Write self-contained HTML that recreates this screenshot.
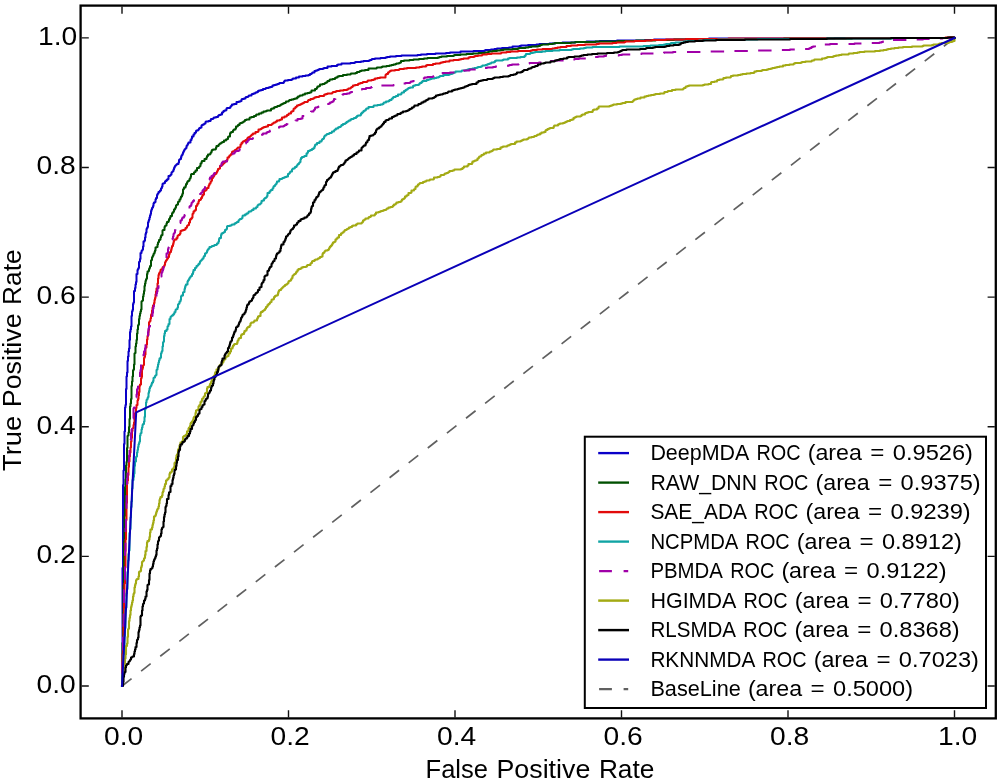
<!DOCTYPE html><html lang="en"><head><meta charset="utf-8"><title>ROC</title>
<style>html,body{margin:0;padding:0;background:#fff;width:1000px;height:784px;overflow:hidden;}svg{display:block;will-change:transform;font-family:"Liberation Sans",sans-serif;}text{white-space:pre;}</style></head><body>
<svg width="1000" height="784" viewBox="0 0 1000 784">
<rect x="0" y="0" width="1000" height="784" fill="#ffffff"/>
<g fill="none" stroke-linejoin="round" stroke-linecap="butt">
<path d="M122.0,686.0 L954.6,37.9" stroke="#606060" stroke-width="1.7" stroke-dasharray="12.1,12.12"/>
<path d="M122.0,686.0v-6.5h0.5v-111.5h0.5v-83h0.5v-14.5h0.5v-26.5h0.5v-12.5h0.5v-24h0.5v-2.5h0.5v-16h0.5v-12.5h0.5v-4h0.5v-11.5h0.5v-4.5h0.5v-5h0.5v-3h0.5v-8.5h0.5v-8h0.5v-2.5h0.5v-3h0.5v-10.5h0.5v-4.5h0.5v-1.5h0.5v-6h0.5v-1.5h0.5v-11.5h1v-3h0.5v-3.5h0.5v-2.5h0.5v-8h1v-4h0.5v-1h0.5v-1h0.5v-6h0.5v-0.5h0.5v-2.5h0.5v-6h1v-2h0.5v-0.5h0.5v-1h0.5v-3h0.5v-5h1v-1h0.5v-3h0.5v-3.5h0.5v-1.5h0.5v-3.5h0.5v-1h0.5v-1h0.5v-4.5h0.5v-1.5h0.5v-1.5h0.5v-2h0.5v-2h0.5v-1.5h0.5v-3h0.5v-1.5h0.5v-1.5h0.5v-0.5h0.5v-1.5h0.5v-2.5h0.5v-1h1v-0.5h0.5v-2.5h0.5v-1.5h1v-3h0.5v-1h0.5v-0.5h0.5v-1.5h1v-0.5h0.5v-1h1v-2h0.5v-0.5h0.5v-1.5h0.5v-2.5h0.5v-0.5h1v-0.5h1v-1.5h0.5v-0.5h1v-1h1v-1h1v-3h1.5v-0.5h0.5v-0.5h0.5v-0.5h0.5v-2h0.5v-0.5h0.5v-0.5h0.5v-0.5h0.5v-1.5h0.5v-1.5h0.5v-1h0.5v-1h0.5v-0.5h0.5v-0.5h0.5v-0.5h0.5v-0.5h1.5v-1.5h0.5v-2.5h0.5v-0.5h0.5v-0.5h1v-2h0.5v-1.5h0.5v-0.5h0.5v-1h0.5v-1.5h0.5v-1h0.5v-1h0.5v-1h0.5v-0.5h0.5v-0.5h0.5v-0.5h0.5v-2h0.5v-0.5h0.5v-1h0.5v-1h0.5v-1h2v-2.5h1v-1.5h0.5v-2h1.5v-2h1v-1.5h1v-0.5h0.5v-1.5h0.5v-0.5h1.5v-0.5h0.5v-0.5h0.5v-1h0.5v-0.5h1v-0.5h1v-2h0.5v-0.5h1v-0.5h1v-0.5h0.5v-0.5h1v-1.5h0.5v-0.5h2.5v-0.5h2v-1h0.5v-1h2v-0.5h0.5v-0.5h0.5v-0.5h2v-0.5h2v-1h0.5v-0.5h0.5v-0.5h1.5v-0.5h1.5v-2h1v-0.5h0.5v-1h1v-0.5h1.5v-0.5h0.5v-1.5h0.5v-0.5h3v-0.5h0.5v-1h0.5v-0.5h0.5v-0.5h0.5v-1h2v-0.5h2.5v-2h2.5v-0.5h1.5v-0.5h1v-1.5h0.5v-0.5h2v-0.5h1.5v-1h0.5v-0.5h2v-0.5h0.5v-0.5h0.5v-0.5h2.5v-1h0.5v-0.5h1.5v-0.5h1.5v-0.5h0.5v-0.5h1.5v-0.5h1v-1h1v-0.5h2v-0.5h2v-1h2.5v-0.5h0.5v-0.5h2.5v-0.5h1.5v-0.5h2v-0.5h0.5v-1h1.5v-0.5h2v-0.5h1.5v-0.5h1.5v-0.5h0.5v-0.5h4v-0.5h0.5v-1h0.5v-0.5h0.5v-0.5h3v-0.5h3.5v-0.5h1v-0.5h0.5v-0.5h3v-1h3v-1h3.5v-0.5h3v-0.5h3v-0.5h1.5v-1h1.5v-0.5h0.5v-0.5h0.5v-0.5h2v-1.5h1.5v-0.5h1.5v-0.5h1v-0.5h1v-0.5h3.5v-0.5h1v-0.5h3.5v-1.5h4v-0.5h5.5v-1h1v-0.5h3.5v-1h9v-0.5h4v-0.5h1v-0.5h5.5v-0.5h2.5v-0.5h5.5v-0.5h1v-0.5h1.5v-0.5h0.5v-0.5h3v-0.5h5.5v-0.5h5v-0.5h1.5v-0.5h3v-0.5h6v-0.5h5.5v-0.5h16v-0.5h3.5v-0.5h6v-0.5h8.5v-0.5h10.5v-0.5h4v-0.5h10.5v-1h13v-0.5h11v-0.5h1v-0.5h5.5v-0.5h3.5v-0.5h2.5v-0.5h5v-0.5h7v-0.5h3.5v-1h7v-0.5h1.5v-0.5h7v-0.5h8.5v-0.5h3v-0.5h10v-0.5h5.5v-0.5h7.5v-0.5h12.5v-0.5h11.5v-0.5h13v-0.5h17.5v-0.5h28v-0.5h9v-0.5h32v-0.5h23v-0.5h125.5v-0.5h116v-0.5h3.7L954.6,37.9" stroke="#0a00c8" stroke-width="2.0" stroke-linecap="square"/>
<path d="M122.0,686.0v-10h0.5v-33h0.5v-30h0.5v-27.5h0.5v-44h0.5v-25.5h0.5v-29h0.5v-7.5h0.5v-14h0.5v-3.5h0.5v-14h0.5v-12h0.5v-0.5h0.5v-3h0.5v-5.5h0.5v-8h0.5v-12.5h0.5v-3h0.5v-4.5h0.5v-13h0.5v-4.5h0.5v-5h0.5v-6h0.5v-1h0.5v-5h0.5v-11h0.5v-0.5h0.5v-6.5h0.5v-3h0.5v-3.5h0.5v-6.5h0.5v-4h0.5v-4h0.5v-1h0.5v-5.5h0.5v-3h0.5v-2.5h0.5v-2h0.5v-2h0.5v-8h0.5v-0.5h0.5v-0.5h0.5v-4h0.5v-2.5h0.5v-3h0.5v-5h0.5v-2.5h0.5v-2.5h0.5v-1.5h0.5v-1h0.5v-4.5h0.5v-2.5h1v-0.5h0.5v-2h0.5v-1h0.5v-2h1v-5.5h0.5v-0.5h0.5v-2.5h0.5v-1h0.5v-1h0.5v-1.5h0.5v-0.5h0.5v-1.5h0.5v-1.5h0.5v-3h1v-0.5h1v-2.5h0.5v-2h0.5v-0.5h0.5v-2h1v-0.5h0.5v-2h0.5v-1.5h0.5v-1h1v-4.5h0.5v-0.5h1.5v-3h0.5v-1h0.5v-0.5h1v-2h0.5v-1.5h1.5v-1h0.5v-2h1v-1.5h0.5v-1.5h1.5v-2.5h0.5v-1h1v-1h0.5v-2h1v-1h0.5v-1h0.5v-2h0.5v-0.5h0.5v-0.5h1v-2.5h0.5v-0.5h1v-2h1v-1.5h0.5v-1.5h1v-1.5h0.5v-1.5h0.5v-4h0.5v-0.5h0.5v-1.5h1.5v-1.5h0.5v-2h1v-1.5h0.5v-1h0.5v-0.5h1v-0.5h0.5v-1.5h0.5v-0.5h0.5v-1.5h0.5v-2.5h0.5v-0.5h2.5v-1.5h0.5v-0.5h1v-1.5h1.5v-2.5h2v-1h0.5v-0.5h0.5v-0.5h0.5v-2.5h1v-1.5h0.5v-1h2.5v-2h2v-1.5h0.5v-1.5h1v-1.5h2v-0.5h0.5v-1h0.5v-0.5h0.5v-1.5h0.5v-1h1v-0.5h2.5v-0.5h0.5v-1.5h0.5v-1.5h2v-1h0.5v-0.5h0.5v-0.5h0.5v-0.5h1v-0.5h0.5v-0.5h1v-0.5h1.5v-1.5h2v-1h1v-0.5h1v-2h0.5v-0.5h1.5v-3h0.5v-1h1v-0.5h1.5v-1.5h0.5v-0.5h0.5v-0.5h1.5v-1h0.5v-2h1.5v-0.5h0.5v-1h1.5v-1.5h1v-0.5h1.5v-0.5h1v-0.5h0.5v-0.5h1v-0.5h0.5v-1h1.5v-0.5h3v-1.5h0.5v-0.5h1.5v-0.5h2.5v-1h2v-1h0.5v-0.5h2.5v-1h2.5v-1h2v-1h2.5v-0.5h1v-0.5h4v-1.5h1v-0.5h2v-1h1v-0.5h2v-0.5h0.5v-0.5h2v-0.5h1v-0.5h0.5v-0.5h1v-0.5h1v-0.5h1v-0.5h1.5v-0.5h0.5v-1h2.5v-0.5h0.5v-0.5h0.5v-0.5h2v-0.5h2v-0.5h1.5v-0.5h2v-1h1v-1h1.5v-0.5h0.5v-0.5h2.5v-0.5h0.5v-0.5h2v-1h2.5v-0.5h2v-0.5h1.5v-0.5h0.5v-1.5h3.5v-1.5h1.5v-0.5h0.5v-1h0.5v-1h1.5v-0.5h1v-1.5h2.5v-0.5h2v-0.5h0.5v-0.5h1v-0.5h1v-0.5h0.5v-1h2v-1h0.5v-0.5h2.5v-0.5h2.5v-1h1v-0.5h1.5v-1h1.5v-0.5h4v-1h4v-0.5h3.5v-0.5h0.5v-0.5h4.5v-0.5h1.5v-1h2.5v-0.5h0.5v-0.5h1.5v-0.5h3.5v-0.5h3.5v-1.5h8v-0.5h0.5v-0.5h4.5v-0.5h1v-0.5h4v-0.5h3v-0.5h2v-0.5h2v-0.5h2v-0.5h1v-0.5h2.5v-0.5h1v-0.5h1v-1.5h3v-0.5h5.5v-0.5h4v-0.5h5.5v-0.5h5v-0.5h3.5v-0.5h10.5v-0.5h1.5v-0.5h2v-0.5h5.5v-0.5h6.5v-0.5h1v-0.5h6v-0.5h6v-0.5h6.5v-0.5h5.5v-0.5h6.5v-0.5h3v-0.5h1v-0.5h3.5v-0.5h4.5v-0.5h3.5v-0.5h3v-0.5h9v-0.5h5.5v-0.5h1v-0.5h6.5v-0.5h3v-0.5h3v-0.5h6.5v-0.5h2v-0.5h0.5v-0.5h1.5v-0.5h6.5v-0.5h4.5v-0.5h2v-0.5h16v-0.5h4.5v-0.5h20v-0.5h22.5v-0.5h18v-0.5h19.5v-0.5h18.5v-0.5h35v-0.5h75v-0.5h68v-0.5h97v-0.5h5.2L954.6,37.9" stroke="#005000" stroke-width="2.0" stroke-linecap="square"/>
<path d="M122.0,686.0v-3h0.5v-29h0.5v-10.5h0.5v-19h0.5v-28.5h0.5v-12.5h0.5v-16h0.5v-28h0.5v-19.5h0.5v-17h0.5v-19.5h0.5v-3h0.5v-5.5h0.5v-8h0.5v-5.5h0.5v-5h0.5v-4h0.5v-5h0.5v-6h0.5v-3.5h0.5v-7h0.5v-2.5h0.5v-0.5h0.5v-3h0.5v-2.5h0.5v-9h1.5v-5.5h0.5v-3h1v-4.5h0.5v-1.5h0.5v-3.5h0.5v-3.5h0.5v-6h0.5v-1.5h1v-6h0.5v-1.5h0.5v-7.5h0.5v-1.5h0.5v-2.5h0.5v-0.5h0.5v-7h0.5v-1h0.5v-2.5h0.5v-6.5h0.5v-0.5h0.5v-3h0.5v-5h0.5v-3.5h0.5v-1h0.5v-5h0.5v-7.5h0.5v-1h0.5v-0.5h0.5v-2.5h0.5v-3.5h0.5v-1h0.5v-3.5h0.5v-3h0.5v-2h0.5v-0.5h0.5v-2h0.5v-3h0.5v-2h0.5v-3.5h0.5v-3h0.5v-3h1v-5h0.5v-5h0.5v-3.5h0.5v-1.5h0.5v-1h0.5v-0.5h0.5v-2h0.5v-0.5h1v-0.5h0.5v-1.5h0.5v-0.5h1v-1h0.5v-1h0.5v-2.5h0.5v-1h0.5v-1h0.5v-0.5h0.5v-1h0.5v-0.5h0.5v-1.5h1v-2.5h0.5v-1.5h0.5v-1h1v-2h0.5v-2h0.5v-2h1v-2h0.5v-2h0.5v-1.5h0.5v-1h2v-1.5h1v-2h0.5v-0.5h0.5v-0.5h1v-0.5h0.5v-1h0.5v-2.5h1v-0.5h1.5v-0.5h1.5v-0.5h1v-1.5h1v-0.5h0.5v-1.5h0.5v-0.5h0.5v-0.5h1v-2.5h1v-3h1v-1h1v-1h0.5v-3.5h0.5v-0.5h0.5v-2h1v-1h1v-0.5h0.5v-4h1v-1h0.5v-1.5h1v-2h0.5v-1.5h1.5v-0.5h0.5v-1.5h1v-1.5h0.5v-1.5h1v-0.5h0.5v-3.5h1v-0.5h1v-0.5h0.5v-1h0.5v-1h1.5v-2h0.5v-1h0.5v-1.5h1v-1.5h0.5v-0.5h0.5v-1h0.5v-2.5h1v-1h0.5v-0.5h0.5v-1h0.5v-1h0.5v-0.5h1v-0.5h0.5v-1h0.5v-1h0.5v-1h0.5v-1.5h1v-0.5h1v-2.5h1.5v-1h1v-0.5h0.5v-1h1v-0.5h0.5v-0.5h0.5v-0.5h0.5v-1h1v-0.5h0.5v-0.5h0.5v-2.5h1.5v-1h0.5v-1h1v-0.5h0.5v-1h1v-2h0.5v-0.5h1.5v-0.5h0.5v-0.5h0.5v-0.5h1.5v-1h0.5v-0.5h0.5v-0.5h0.5v-0.5h2v-0.5h0.5v-2.5h1v-1.5h1v-1h0.5v-0.5h1v-0.5h1.5v-1h1.5v-1h0.5v-1h0.5v-0.5h1v-0.5h1v-0.5h0.5v-0.5h0.5v-0.5h0.5v-0.5h0.5v-0.5h1v-1h2.5v-1.5h2.5v-0.5h0.5v-2h2v-0.5h1v-0.5h0.5v-0.5h1v-0.5h1v-0.5h2v-0.5h2v-1.5h3.5v-0.5h0.5v-0.5h0.5v-0.5h1v-0.5h0.5v-0.5h1.5v-0.5h0.5v-0.5h1v-1h2.5v-0.5h1v-0.5h1.5v-2h2.5v-1h2v-0.5h0.5v-1h1.5v-1h0.5v-0.5h2v-1.5h0.5v-0.5h1v-0.5h1v-2h0.5v-0.5h1v-0.5h0.5v-1h1v-0.5h0.5v-1h1.5v-0.5h1.5v-0.5h1v-0.5h1v-0.5h1v-0.5h1v-0.5h0.5v-0.5h3v-0.5h0.5v-1h0.5v-0.5h2v-1h2.5v-0.5h1v-0.5h0.5v-0.5h1.5v-0.5h3v-0.5h0.5v-0.5h4.5v-1h0.5v-0.5h1.5v-0.5h1.5v-0.5h4.5v-0.5h0.5v-0.5h0.5v-0.5h2.5v-0.5h1v-0.5h3.5v-0.5h3.5v-0.5h3.5v-0.5h1v-0.5h0.5v-0.5h2v-0.5h0.5v-0.5h0.5v-0.5h1v-0.5h0.5v-1h2v-0.5h3v-1h1v-0.5h1.5v-0.5h2v-0.5h0.5v-0.5h4v-0.5h0.5v-0.5h0.5v-0.5h3.5v-0.5h2v-0.5h1.5v-1h2.5v-0.5h2.5v-0.5h5.5v-2.5h0.5v-0.5h0.5v-0.5h1.5v-1.5h1v-0.5h0.5v-0.5h0.5v-0.5h1v-0.5h4v-0.5h4v-0.5h0.5v-0.5h4.5v-0.5h3v-0.5h9v-0.5h3.5v-0.5h2.5v-0.5h4v-1h1v-0.5h6v-1h2.5v-0.5h4.5v-0.5h1v-0.5h2v-0.5h2.5v-0.5h4v-1h4v-0.5h5.5v-0.5h2v-0.5h2.5v-0.5h5v-1h1.5v-0.5h4v-0.5h1v-0.5h3v-0.5h4v-0.5h0.5v-0.5h4.5v-0.5h4.5v-0.5h9.5v-0.5h0.5v-0.5h5v-0.5h4v-0.5h7.5v-0.5h13v-0.5h1.5v-0.5h4.5v-0.5h5.5v-0.5h10v-0.5h2.5v-0.5h2.5v-0.5h3v-0.5h6v-1h4.5v-0.5h6.5v-0.5h7.5v-0.5h11.5v-0.5h2.5v-0.5h13.5v-0.5h4v-0.5h8v-0.5h1v-0.5h9v-0.5h11v-0.5h6.5v-0.5h14v-0.5h20v-0.5h42.5v-0.5h117.5v-0.5h99.5v-0.5h8.7L954.6,37.9" stroke="#e20a0a" stroke-width="2.0" stroke-linecap="square"/>
<path d="M122.0,686.0v-2h0.5v-10h0.5v-10.5h0.5v-9h0.5v-6.5h0.5v-12h0.5v-8h0.5v-19h0.5v-1.5h0.5v-14h0.5v-4.5h0.5v-17h0.5v-11.5h0.5v-6.5h0.5v-3.5h0.5v-17.5h0.5v-4h0.5v-11.5h0.5v-10.5h0.5v-5.5h0.5v-13h0.5v-8.5h1v-3h0.5v-3.5h0.5v-7.5h0.5v-4.5h1v-4.5h0.5v-0.5h0.5v-4h0.5v-2.5h0.5v-3h0.5v-2.5h0.5v-1.5h0.5v-1.5h0.5v-6h0.5v-2h0.5v-0.5h0.5v-3.5h0.5v-2h0.5v-2.5h0.5v-1h1v-2.5h0.5v-4.5h0.5v-7.5h0.5v-1.5h0.5v-5.5h0.5v-2.5h0.5v-0.5h0.5v-1.5h0.5v-1h0.5v-4h0.5v-2h0.5v-2.5h0.5v-1.5h0.5v-0.5h0.5v-1h0.5v-1.5h0.5v-1.5h1v-1.5h0.5v-3h0.5v-0.5h1v-1.5h0.5v-0.5h0.5v-0.5h0.5v-5h0.5v-0.5h0.5v-2.5h0.5v-2.5h0.5v-2h0.5v-2h0.5v-2h1v-1h0.5v-4h0.5v-1.5h0.5v-1h0.5v-4.5h0.5v-4h0.5v-1h0.5v-5.5h0.5v-2.5h0.5v-2.5h1.5v-1.5h1v-3h0.5v-0.5h0.5v-2h1v-5h1v-2h0.5v-0.5h0.5v-0.5h0.5v-0.5h1v-1h1v-1h0.5v-1.5h1v-2h0.5v-0.5h0.5v-0.5h1v-1.5h0.5v-3h0.5v-0.5h0.5v-0.5h0.5v-2h1v-1.5h0.5v-3.5h0.5v-1h1.5v-3h0.5v-0.5h1v-3h0.5v-2h0.5v-1.5h0.5v-1h1.5v-3h0.5v-1h0.5v-0.5h0.5v-1h0.5v-1h0.5v-0.5h0.5v-1h0.5v-0.5h1v-2h1v-2h0.5v-2h1.5v-2h1v-0.5h0.5v-1.5h1v-0.5h0.5v-0.5h0.5v-1h1v-1h0.5v-1.5h0.5v-0.5h0.5v-0.5h0.5v-0.5h0.5v-0.5h0.5v-1h1v-1.5h0.5v-1h1v-2.5h1v-0.5h0.5v-0.5h0.5v-1.5h0.5v-1h0.5v-0.5h0.5v-1h1v-1.5h2v-0.5h0.5v-0.5h2v-0.5h0.5v-0.5h2v-0.5h0.5v-1h1v-0.5h0.5v-1.5h0.5v-2.5h0.5v-1h1.5v-3h0.5v-1.5h1v-0.5h1v-0.5h0.5v-0.5h1v-2h1v-0.5h0.5v-0.5h0.5v-2.5h0.5v-0.5h2.5v-0.5h1.5v-0.5h0.5v-0.5h2.5v-1h1v-0.5h1v-0.5h0.5v-0.5h1.5v-1.5h0.5v-0.5h0.5v-0.5h0.5v-0.5h1.5v-0.5h0.5v-0.5h0.5v-2h0.5v-0.5h2v-1h1.5v-1h1.5v-0.5h0.5v-1h0.5v-0.5h2v-0.5h0.5v-0.5h0.5v-0.5h1.5v-1.5h2.5v-1h0.5v-0.5h1v-1.5h0.5v-0.5h0.5v-0.5h1.5v-0.5h0.5v-0.5h0.5v-0.5h0.5v-2h1v-0.5h1.5v-1.5h0.5v-0.5h0.5v-0.5h1v-0.5h0.5v-0.5h0.5v-1h0.5v-3h2v-1.5h1v-1h0.5v-0.5h1.5v-1.5h0.5v-0.5h0.5v-1.5h0.5v-0.5h1v-1h0.5v-0.5h0.5v-0.5h0.5v-1h0.5v-1.5h2v-1h0.5v-1.5h2.5v-0.5h0.5v-0.5h1.5v-0.5h1v-0.5h1.5v-0.5h1.5v-2.5h1v-0.5h0.5v-0.5h0.5v-1h0.5v-0.5h1.5v-2h0.5v-0.5h0.5v-0.5h1.5v-0.5h0.5v-1h1.5v-1h0.5v-0.5h0.5v-1h0.5v-0.5h1v-1h0.5v-0.5h0.5v-0.5h0.5v-2.5h0.5v-1.5h1v-1h2v-0.5h0.5v-0.5h2v-2.5h1v-1h0.5v-1.5h1.5v-0.5h1v-0.5h1.5v-1h1.5v-1h1v-1.5h0.5v-1.5h0.5v-0.5h1.5v-1.5h2.5v-1.5h2v-1h0.5v-1h0.5v-0.5h1v-0.5h0.5v-1.5h0.5v-1h0.5v-0.5h1v-0.5h0.5v-0.5h0.5v-0.5h2v-0.5h0.5v-0.5h2v-0.5h0.5v-1h2v-1h0.5v-0.5h0.5v-0.5h1v-1h2v-1h1v-0.5h1.5v-0.5h0.5v-0.5h0.5v-1h1.5v-1h2v-0.5h0.5v-0.5h1v-1h1v-0.5h1v-0.5h0.5v-0.5h1.5v-1h1v-0.5h2v-0.5h0.5v-0.5h2v-1h1v-1h1v-0.5h2.5v-0.5h0.5v-1.5h1v-1h1v-0.5h0.5v-1h1v-0.5h1v-0.5h0.5v-1h0.5v-0.5h2v-1.5h5v-1h0.5v-0.5h3.5v-0.5h3v-0.5h2v-0.5h1v-1h0.5v-0.5h2v-1h2.5v-0.5h1v-1h2v-1h0.5v-0.5h1v-1h0.5v-0.5h2v-0.5h0.5v-0.5h2v-1.5h3v-0.5h0.5v-1h0.5v-0.5h2v-1.5h1.5v-1h1v-0.5h1v-0.5h0.5v-0.5h0.5v-0.5h1.5v-0.5h3v-1.5h1v-0.5h1.5v-0.5h3v-0.5h1v-1h0.5v-0.5h1.5v-1h1v-1h4v-1h2v-0.5h1.5v-0.5h1.5v-0.5h3v-0.5h2v-0.5h2v-0.5h1v-0.5h0.5v-0.5h3.5v-1h5.5v-0.5h1v-0.5h2v-0.5h1v-0.5h1v-0.5h1.5v-1h6v-0.5h0.5v-0.5h4v-0.5h1.5v-0.5h1.5v-0.5h3.5v-0.5h2v-0.5h2.5v-0.5h1v-0.5h3v-0.5h1v-0.5h0.5v-0.5h3v-0.5h1.5v-0.5h1v-0.5h1.5v-0.5h1.5v-0.5h0.5v-0.5h2.5v-0.5h1v-1h1v-0.5h6.5v-0.5h1v-0.5h4.5v-1h1.5v-0.5h7.5v-0.5h3.5v-0.5h4v-1h1v-1h0.5v-1h4v-0.5h0.5v-0.5h2.5v-0.5h2v-0.5h7v-0.5h3.5v-0.5h7v-0.5h7v-0.5h12v-0.5h1.5v-0.5h7v-0.5h4v-0.5h2v-0.5h6.5v-0.5h27v-0.5h24v-0.5h7v-0.5h8.5v-0.5h5v-0.5h2v-0.5h4.5v-0.5h0.5v-0.5h4.5v-0.5h8v-0.5h0.5v-0.5h3.5v-0.5h11.5v-0.5h5.5v-0.5h13.5v-0.5h39.5v-0.5h69.5v-0.5h71v-0.5h56.7L954.6,37.9" stroke="#10a4a4" stroke-width="2.0" stroke-linecap="square"/>
<path d="M122.0,686.0v-3h0.5v-20.5h0.5v-25h0.5v-30h0.5v-17.5h0.5v-10.5h0.5v-28.5h0.5v-22.5h0.5v-19h0.5v-22h0.5v-9h0.5v-5h0.5v-3h0.5v-9h0.5v-6h0.5v-6h0.5v-3h0.5v-6.5h0.5v-7h0.5v-3.5h0.5v-5.5h0.5v-2.5h0.5v-3h0.5v-10h0.5v-1h1v-3.5h0.5v-5h0.5v-1.5h0.5v-3h0.5v-5h0.5v-1h0.5v-4h0.5v-5.5h0.5v-1h0.5v-0.5h0.5v-5h0.5v-2.5h0.5v-6h0.5v-1.5h1.5v-4h0.5v-4h0.5v-3h0.5v-0.5h0.5v-2.5h0.5v-3.5h0.5v-2.5h1v-6h1v-4.5h0.5v-3.5h0.5v-1.5h0.5v-0.5h0.5v-1.5h0.5v-4.5h1v-3h0.5v-1.5h0.5v-3h0.5v-4.5h0.5v-2h0.5v-1.5h0.5v-1.5h0.5v-3.5h0.5v-1h0.5v-1h0.5v-4.5h0.5v-2h0.5v-3.5h1v-4.5h0.5v-2h0.5v-2.5h0.5v-1h0.5v-1.5h1v-3.5h0.5v-1h0.5v-1.5h0.5v-1.5h0.5v-3.5h0.5v-0.5h0.5v-1h0.5v-1h0.5v-2.5h0.5v-0.5h0.5v-6.5h1v-0.5h0.5v-4h0.5v-1.5h0.5v-0.5h0.5v-1h0.5v-2.5h0.5v-2h0.5v-2h1.5v-1h0.5v-2h0.5v-2.5h0.5v-0.5h0.5v-1h0.5v-2.5h0.5v-1h0.5v-0.5h0.5v-0.5h0.5v-2h1v-1h1v-0.5h0.5v-1.5h1v-2.5h1v-0.5h0.5v-1.5h0.5v-1h1.5v-1h0.5v-1.5h0.5v-1h0.5v-1.5h0.5v-2h2.5v-1.5h0.5v-0.5h0.5v-2h0.5v-0.5h1v-1h0.5v-2h0.5v-0.5h0.5v-0.5h0.5v-1h1v-1h1v-1h0.5v-1h0.5v-0.5h1.5v-0.5h1v-0.5h0.5v-0.5h0.5v-0.5h0.5v-1.5h1v-1h0.5v-0.5h1v-2h0.5v-0.5h0.5v-0.5h0.5v-0.5h0.5v-0.5h0.5v-3.5h1v-0.5h0.5v-0.5h0.5v-0.5h0.5v-1.5h0.5v-0.5h0.5v-1h0.5v-1h0.5v-0.5h0.5v-1.5h1.5v-1.5h1v-0.5h1v-1h0.5v-1h0.5v-0.5h1.5v-2h1v-0.5h0.5v-1h0.5v-0.5h1v-0.5h1.5v-3h1v-2h0.5v-1h1v-1h4v-1.5h1v-1.5h1v-0.5h1v-2h0.5v-1.5h2v-1h2v-1h0.5v-1h1v-0.5h2.5v-0.5h1v-1.5h0.5v-0.5h2v-2h0.5v-1h1v-0.5h0.5v-0.5h1v-0.5h0.5v-0.5h0.5v-1h0.5v-0.5h1v-1h0.5v-0.5h0.5v-0.5h0.5v-1h3.5v-0.5h0.5v-0.5h2v-0.5h1.5v-0.5h1.5v-0.5h1v-0.5h0.5v-0.5h0.5v-0.5h2v-0.5h1v-1h3.5v-1h1v-0.5h1.5v-0.5h1v-1h4.5v-0.5h0.5v-1h3.5v-0.5h0.5v-1.5h1v-0.5h3.5v-0.5h1v-0.5h0.5v-0.5h1.5v-1h1v-0.5h0.5v-1h2v-0.5h3v-1h2.5v-0.5h2v-1.5h3.5v-0.5h1.5v-2.5h4.5v-1.5h0.5v-1h2v-1.5h1.5v-0.5h2.5v-1h0.5v-0.5h0.5v-0.5h0.5v-1.5h0.5v-0.5h2v-0.5h1v-0.5h0.5v-1.5h4v-0.5h2.5v-0.5h3.5v-0.5h1v-1h1.5v-0.5h1v-0.5h1v-1h0.5v-1.5h1.5v-0.5h0.5v-0.5h1.5v-1h0.5v-0.5h1.5v-0.5h2.5v-1h0.5v-0.5h1v-0.5h3.5v-0.5h2.5v-0.5h0.5v-0.5h1v-0.5h3.5v-0.5h0.5v-0.5h2.5v-0.5h2v-0.5h1v-0.5h1.5v-0.5h4v-1h4.5v-0.5h1v-0.5h0.5v-0.5h0.5v-0.5h6v-0.5h15v-0.5h2.5v-0.5h1.5v-0.5h2v-0.5h6v-0.5h4.5v-0.5h0.5v-0.5h0.5v-0.5h2v-0.5h4.5v-1h0.5v-1h4v-0.5h2.5v-1h3v-0.5h5.5v-0.5h0.5v-0.5h0.5v-1h4v-0.5h2v-0.5h1.5v-0.5h1v-0.5h7.5v-0.5h4.5v-0.5h0.5v-1h9v-0.5h5.5v-0.5h0.5v-0.5h10v-0.5h2.5v-0.5h1v-0.5h3.5v-0.5h6v-0.5h2.5v-0.5h5v-0.5h7.5v-0.5h1.5v-0.5h2.5v-0.5h6.5v-0.5h7.5v-0.5h3.5v-0.5h9.5v-0.5h5.5v-0.5h4.5v-0.5h2v-0.5h4.5v-0.5h9v-0.5h4v-0.5h6v-0.5h4.5v-0.5h9.5v-0.5h3v-0.5h3.5v-0.5h3v-0.5h6v-0.5h2v-0.5h13v-0.5h3v-0.5h9v-0.5h10.5v-0.5h14.5v-0.5h8v-0.5h9v-0.5h34v-0.5h18v-0.5h32.5v-0.5h23.5v-0.5h9v-0.5h7.5v-0.5h11.5v-0.5h1v-0.5h1.5v-1h1.5v-0.5h2v-1h1.5v-0.5h4.5v-0.5h9v-0.5h24.5v-0.5h8v-0.5h17v-0.5h2v-0.5h1.5v-0.5h2v-0.5h2v-0.5h3v-0.5h26v-0.5h7v-0.5h10v-0.5h9.5v-0.5h12.2L954.6,37.9" stroke="#a000a8" stroke-width="2.0" stroke-dasharray="13.4,10.82" stroke-dashoffset="12"/>
<path d="M122.0,686.0v-1.5h1v-9.5h0.5v-1.5h0.5v-7.5h0.5v-2h0.5v-5.5h0.5v-4h0.5v-8.5h1v-2.5h0.5v-6.5h0.5v-7.5h0.5v-1h0.5v-7.5h0.5v-3h0.5v-3h0.5v-4.5h0.5v-3.5h0.5v-2h0.5v-2.5h0.5v-2h0.5v-4h0.5v-2.5h0.5v-1h0.5v-5.5h0.5v-2.5h0.5v-1.5h0.5v-3h0.5v-1h0.5v-0.5h1.5v-2.5h0.5v-4.5h0.5v-0.5h1v-0.5h0.5v-3.5h0.5v-1.5h0.5v-4h0.5v-0.5h0.5v-0.5h0.5v-0.5h0.5v-2h0.5v-0.5h0.5v-3h0.5v-4h1v-4h0.5v-4.5h0.5v-1.5h1.5v-1.5h0.5v-2.5h0.5v-4.5h0.5v-3h1.5v-2h0.5v-2.5h0.5v-2h0.5v-2.5h0.5v-4h1v-0.5h0.5v-1h0.5v-2h0.5v-1.5h0.5v-1.5h0.5v-1h0.5v-0.5h0.5v-2h0.5v-3h0.5v-3.5h0.5v-1.5h0.5v-1.5h1.5v-1.5h0.5v-3h0.5v-1h0.5v-2.5h0.5v-0.5h0.5v-2h0.5v-2.5h1v-3.5h1v-0.5h0.5v-1h1v-1h0.5v-0.5h0.5v-3.5h0.5v-1.5h1.5v-1h0.5v-2h0.5v-0.5h1v-1h0.5v-1h0.5v-4h0.5v-0.5h0.5v-0.5h0.5v-4h0.5v-2.5h0.5v-1h0.5v-0.5h0.5v-4h0.5v-1h0.5v-0.5h0.5v-3h0.5v-1h0.5v-2h1.5v-1h0.5v-0.5h0.5v-4h0.5v-0.5h0.5v-0.5h1.5v-1h0.5v-0.5h1v-3h0.5v-0.5h1v-2.5h0.5v-1h1v-1.5h0.5v-2.5h0.5v-1h1v-1h0.5v-0.5h0.5v-1h0.5v-2h0.5v-1h0.5v-0.5h1v-3.5h0.5v-2.5h1v-0.5h1v-0.5h0.5v-3h0.5v-0.5h0.5v-1h1v-3h1v-1h0.5v-2h0.5v-0.5h1v-1.5h0.5v-0.5h0.5v-0.5h0.5v-2.5h0.5v-0.5h1v-0.5h0.5v-4h0.5v-1.5h2v-1.5h0.5v-1.5h0.5v-0.5h0.5v-1.5h0.5v-1h0.5v-2h0.5v-0.5h0.5v-1.5h0.5v-0.5h0.5v-1h1v-2.5h0.5v-1h1v-2.5h1.5v-1.5h1v-1h0.5v-1.5h0.5v-0.5h0.5v-0.5h1v-0.5h0.5v-0.5h0.5v-1h0.5v-0.5h0.5v-1.5h0.5v-0.5h0.5v-1h1v-2h1v-0.5h1v-0.5h1v-2.5h1.5v-2h1v-3h1.5v-1.5h0.5v-1.5h1v-1h0.5v-0.5h2.5v-1h0.5v-2h0.5v-0.5h0.5v-1.5h0.5v-0.5h0.5v-0.5h1.5v-2.5h0.5v-1h1v-0.5h1.5v-1.5h0.5v-1.5h1v-0.5h1v-1.5h0.5v-1h0.5v-0.5h0.5v-0.5h1.5v-1h0.5v-0.5h0.5v-2h0.5v-0.5h0.5v-0.5h2v-0.5h0.5v-0.5h0.5v-1h2.5v-1.5h0.5v-1h0.5v-1.5h1v-0.5h1.5v-3h0.5v-1h1.5v-1h1v-0.5h0.5v-0.5h1v-1h0.5v-0.5h0.5v-1.5h1v-0.5h0.5v-1.5h1v-1h1v-0.5h0.5v-1h0.5v-0.5h1v-2h0.5v-0.5h1.5v-0.5h0.5v-2h1v-1h1v-0.5h1.5v-0.5h0.5v-2h0.5v-1.5h0.5v-1h0.5v-0.5h1.5v-1h0.5v-0.5h0.5v-0.5h0.5v-0.5h0.5v-0.5h0.5v-0.5h0.5v-0.5h1v-1h1v-0.5h1v-0.5h0.5v-0.5h0.5v-0.5h0.5v-1.5h0.5v-0.5h1v-0.5h1v-1h0.5v-1h0.5v-0.5h0.5v-2h0.5v-0.5h0.5v-0.5h0.5v-0.5h0.5v-0.5h1v-0.5h0.5v-1h0.5v-1h1v-1.5h1v-1h2v-0.5h1v-1h1.5v-0.5h3v-0.5h1v-1h0.5v-0.5h3v-1.5h0.5v-0.5h1v-1.5h0.5v-0.5h2v-1h1v-0.5h2v-0.5h0.5v-0.5h1v-0.5h1v-1h1.5v-0.5h1v-2.5h0.5v-1h1v-0.5h0.5v-1h0.5v-0.5h0.5v-0.5h2v-0.5h1v-0.5h0.5v-1h0.5v-1h0.5v-1h1v-1h1v-1h0.5v-1h0.5v-1h1v-0.5h1v-0.5h0.5v-2h1v-1h1v-1h1.5v-2.5h2v-1.5h1v-0.5h0.5v-0.5h1v-1h1v-1h0.5v-0.5h1.5v-0.5h0.5v-0.5h1v-0.5h1v-1h1.5v-0.5h1.5v-1h1v-0.5h3v-1h1v-0.5h0.5v-0.5h4v-0.5h0.5v-0.5h0.5v-0.5h0.5v-1.5h1v-0.5h0.5v-0.5h1v-1h3v-1h0.5v-0.5h1.5v-0.5h0.5v-1h3.5v-0.5h0.5v-1h1v-1.5h2.5v-0.5h1.5v-0.5h1v-0.5h2v-0.5h1v-0.5h2v-0.5h0.5v-0.5h0.5v-0.5h1.5v-1h2v-0.5h2v-0.5h0.5v-1h1v-1h1.5v-0.5h0.5v-0.5h0.5v-1h2v-0.5h2v-0.5h1v-1h0.5v-1h1v-0.5h1v-0.5h0.5v-0.5h0.5v-1.5h1.5v-1h1v-0.5h1v-2h2.5v-0.5h0.5v-2h2.5v-1h0.5v-0.5h1v-2h0.5v-0.5h1.5v-1h0.5v-1h1v-0.5h0.5v-0.5h0.5v-0.5h3v-1h1.5v-0.5h1.5v-0.5h0.5v-0.5h3v-0.5h0.5v-0.5h3.5v-0.5h0.5v-1.5h3.5v-0.5h2v-0.5h1v-1h0.5v-0.5h3v-0.5h0.5v-0.5h0.5v-0.5h1.5v-0.5h1.5v-0.5h0.5v-0.5h1v-1h3v-0.5h1.5v-0.5h0.5v-0.5h6.5v-0.5h1.5v-1h1v-0.5h0.5v-1h3.5v-1h1v-1.5h3.5v-1h0.5v-1.5h1.5v-0.5h1v-0.5h1.5v-0.5h1v-1.5h1v-0.5h0.5v-1h0.5v-0.5h1.5v-0.5h0.5v-1h1.5v-0.5h1v-1h2v-1h3.5v-0.5h0.5v-0.5h1.5v-0.5h1v-0.5h0.5v-0.5h0.5v-0.5h3.5v-0.5h3.5v-1.5h1.5v-0.5h1v-0.5h4v-0.5h0.5v-0.5h1.5v-0.5h1v-0.5h1v-0.5h4v-1.5h1.5v-1h4v-0.5h1v-0.5h1v-0.5h1v-0.5h3.5v-0.5h1v-0.5h0.5v-0.5h0.5v-0.5h2.5v-0.5h2.5v-0.5h0.5v-0.5h2v-0.5h0.5v-0.5h1v-0.5h2v-1h1.5v-1h2.5v-0.5h1.5v-1.5h0.5v-0.5h1.5v-1h1.5v-0.5h1v-0.5h3.5v-1h0.5v-1h0.5v-0.5h3.5v-1h1v-0.5h1v-0.5h3v-0.5h1.5v-0.5h1v-0.5h1v-0.5h1v-0.5h2.5v-1h2v-0.5h1.5v-1.5h1v-0.5h1v-0.5h1v-0.5h4v-0.5h1v-1h1v-0.5h2.5v-1h0.5v-0.5h1.5v-0.5h1.5v-0.5h4v-1h0.5v-1h1v-0.5h3v-1h1.5v-1.5h0.5v-0.5h10.5v-0.5h1.5v-0.5h1.5v-0.5h1v-0.5h3.5v-0.5h4v-0.5h1.5v-0.5h3v-1h7v-0.5h0.5v-0.5h0.5v-0.5h0.5v-0.5h0.5v-0.5h1.5v-0.5h1.5v-0.5h3v-1h4v-1h2v-0.5h2v-0.5h2.5v-0.5h3v-0.5h1.5v-0.5h4.5v-0.5h4v-0.5h0.5v-1h3v-0.5h0.5v-0.5h4v-1h3.5v-0.5h7.5v-0.5h0.5v-0.5h0.5v-0.5h1.5v-1h0.5v-0.5h1.5v-0.5h1.5v-0.5h14v-0.5h1.5v-0.5h4v-0.5h2.5v-1.5h0.5v-0.5h3v-0.5h2.5v-1h0.5v-0.5h2v-0.5h3.5v-0.5h0.5v-1h2.5v-0.5h4.5v-0.5h0.5v-1h2v-0.5h5v-0.5h2.5v-0.5h2v-0.5h4v-0.5h4v-0.5h3.5v-0.5h0.5v-1h2v-0.5h5v-0.5h1v-0.5h4.5v-0.5h1.5v-0.5h2.5v-0.5h1.5v-0.5h2.5v-0.5h2v-0.5h2.5v-0.5h3.5v-1h2.5v-0.5h4v-0.5h4v-0.5h0.5v-0.5h1v-0.5h6v-0.5h1v-0.5h3.5v-0.5h6v-0.5h0.5v-0.5h2v-0.5h0.5v-0.5h7.5v-1h3v-0.5h1.5v-0.5h1v-0.5h5.5v-0.5h1v-0.5h2v-0.5h3v-0.5h2.5v-0.5h7v-0.5h0.5v-0.5h4.5v-0.5h4v-0.5h2v-0.5h5v-0.5h10.5v-0.5h5v-0.5h3.5v-0.5h3v-0.5h1.5v-0.5h3v-0.5h3.5v-0.5h4v-0.5h4.5v-0.5h9v-0.5h10.5v-0.5h1v-0.5h8.5v-0.5h1.5v-0.5h5v-0.5h1v-0.5h2v-0.5h7v-0.5h1v-0.5h2.5v-0.5h1v-0.5h1.5v-3.2L954.6,37.9" stroke="#a3aa14" stroke-width="2.1" stroke-linecap="square"/>
<path d="M122.0,686.0h1v-4h0.5v-5h0.5v-3h0.5v-2h1v-4.5h0.5v-2h0.5v-0.5h0.5v-1h1.5v-2h0.5v-0.5h0.5v-0.5h0.5v-1h0.5v-0.5h0.5v-2h1v-0.5h0.5v-0.5h1.5v-2.5h0.5v-2.5h0.5v-2h0.5v-2.5h1v-4h0.5v-3h0.5v-0.5h0.5v-2h0.5v-5.5h0.5v-2h0.5v-2.5h0.5v-2h0.5v-9h0.5v-1h1v-5h0.5v-4h0.5v-2.5h0.5v-0.5h0.5v-3h1v-1.5h0.5v-2.5h1v-5h0.5v-1.5h0.5v-5h0.5v-0.5h1v-4.5h0.5v-6.5h0.5v-3h0.5v-1.5h1v-0.5h0.5v-0.5h0.5v-1.5h0.5v-2.5h0.5v-2.5h0.5v-1.5h0.5v-1h0.5v-1h0.5v-1.5h0.5v-1.5h0.5v-4.5h0.5v-2h0.5v-4h0.5v-3h0.5v-1h0.5v-3h0.5v-0.5h0.5v-0.5h0.5v-0.5h0.5v-2.5h0.5v-4h0.5v-1.5h0.5v-0.5h0.5v-0.5h0.5v-5.5h0.5v-4.5h0.5v-2.5h0.5v-2h0.5v-5.5h0.5v-1h0.5v-2.5h0.5v-4.5h1.5v-4h0.5v-2.5h0.5v-0.5h1v-6h1v-2h1v-4h0.5v-2h0.5v-2.5h0.5v-1.5h0.5v-3.5h0.5v-1h1v-3.5h0.5v-3h0.5v-3h1v-3.5h0.5v-4.5h0.5v-2h1v-3.5h0.5v-2h1.5v-1h0.5v-1.5h1.5v-0.5h0.5v-0.5h0.5v-1.5h0.5v-1h1.5v-1h0.5v-1.5h1.5v-2.5h1v-2h0.5v-2.5h1.5v-3h0.5v-0.5h0.5v-0.5h0.5v-1.5h0.5v-1.5h1v-1.5h0.5v-0.5h0.5v-3h1v-1h1v-1.5h0.5v-1h1v-3.5h0.5v-0.5h0.5v-0.5h1v-2h1v-1.5h0.5v-0.5h0.5v-0.5h1v-3.5h1v-1h0.5v-1h0.5v-0.5h1v-1.5h0.5v-3h0.5v-0.5h0.5v-0.5h0.5v-1h0.5v-1.5h1v-2.5h0.5v-1.5h0.5v-1h1v-2h0.5v-2.5h0.5v-1.5h0.5v-2.5h1v-1h0.5v-1h1v-3h1v-2h0.5v-3h0.5v-0.5h0.5v-0.5h0.5v-0.5h1v-0.5h0.5v-3h0.5v-1.5h0.5v-2h2v-3h0.5v-1h0.5v-1h0.5v-0.5h0.5v-0.5h0.5v-1h1v-3.5h1v-1.5h0.5v-1.5h0.5v-2h0.5v-1.5h1v-1h0.5v-3h1v-1.5h0.5v-1.5h0.5v-1.5h0.5v-1.5h1v-1.5h0.5v-2.5h0.5v-0.5h1v-1h1v-1.5h0.5v-1.5h0.5v-1h0.5v-0.5h0.5v-1.5h0.5v-2h0.5v-0.5h0.5v-1h0.5v-1.5h0.5v-0.5h1v-0.5h0.5v-1h0.5v-0.5h0.5v-1.5h0.5v-1.5h0.5v-2h0.5v-2h0.5v-1h1v-0.5h0.5v-1.5h0.5v-1h1v-0.5h1v-0.5h0.5v-1.5h0.5v-0.5h0.5v-1h0.5v-2h0.5v-0.5h1v-0.5h0.5v-1h0.5v-0.5h1v-0.5h0.5v-0.5h0.5v-2h1.5v-2.5h1v-0.5h1v-3h0.5v-1h0.5v-0.5h0.5v-0.5h0.5v-2h1v-3.5h0.5v-0.5h0.5v-0.5h1.5v-0.5h0.5v-4h1v-0.5h0.5v-1.5h0.5v-1h0.5v-1h1v-0.5h0.5v-2.5h0.5v-0.5h0.5v-1h0.5v-1h0.5v-0.5h1v-2h0.5v-0.5h1v-2.5h0.5v-1.5h0.5v-1h1v-0.5h0.5v-0.5h1v-1.5h1v-2.5h0.5v-2.5h0.5v-1.5h2v-2.5h1v-1h0.5v-1h0.5v-1.5h0.5v-2h1v-0.5h0.5v-0.5h0.5v-1h0.5v-0.5h0.5v-0.5h1v-1.5h0.5v-1.5h0.5v-0.5h0.5v-0.5h0.5v-0.5h1v-1h0.5v-0.5h0.5v-2h1.5v-0.5h0.5v-0.5h1v-1.5h0.5v-0.5h1v-1.5h2v-1.5h1v-0.5h1.5v-0.5h1.5v-1h2v-0.5h0.5v-0.5h0.5v-1h0.5v-0.5h1v-1.5h1v-0.5h0.5v-1h0.5v-3h0.5v-2h0.5v-1h1v-3.5h1v-0.5h0.5v-2h1v-1h0.5v-1h0.5v-1h1v-0.5h0.5v-0.5h0.5v-1.5h0.5v-1.5h0.5v-1h1v-0.5h0.5v-0.5h0.5v-0.5h0.5v-0.5h1v-1h0.5v-1.5h0.5v-0.5h0.5v-1.5h0.5v-0.5h1v-3h0.5v-0.5h0.5v-1.5h1v-0.5h0.5v-0.5h0.5v-0.5h0.5v-0.5h0.5v-0.5h1v-1h0.5v-1h0.5v-1h0.5v-1h0.5v-1h1v-0.5h1.5v-1h2v-1h0.5v-1h0.5v-1.5h0.5v-1h1v-0.5h0.5v-0.5h0.5v-0.5h2v-0.5h0.5v-0.5h0.5v-0.5h0.5v-1h0.5v-0.5h0.5v-1.5h1v-0.5h1v-0.5h0.5v-0.5h0.5v-0.5h0.5v-0.5h1v-0.5h0.5v-0.5h1v-0.5h1v-1h1.5v-1h0.5v-0.5h2v-1.5h1.5v-0.5h0.5v-0.5h0.5v-1h2.5v-2.5h0.5v-0.5h0.5v-0.5h0.5v-0.5h0.5v-0.5h0.5v-0.5h1.5v-1.5h0.5v-1.5h1v-0.5h0.5v-1.5h0.5v-0.5h1v-2h0.5v-2h1.5v-0.5h2v-0.5h0.5v-0.5h0.5v-0.5h1v-1.5h1v-2h0.5v-1h0.5v-0.5h0.5v-0.5h1.5v-1h1v-0.5h0.5v-0.5h1v-1h0.5v-0.5h0.5v-0.5h0.5v-1h1v-1.5h1.5v-1.5h1v-0.5h2v-0.5h0.5v-0.5h0.5v-0.5h2.5v-1.5h1.5v-0.5h1v-0.5h1v-0.5h1.5v-0.5h0.5v-1h3v-1h1v-0.5h1.5v-1h3v-0.5h1.5v-0.5h1v-0.5h1v-1h1.5v-0.5h1v-1h1.5v-0.5h0.5v-0.5h0.5v-1h3.5v-0.5h0.5v-1h2v-0.5h1v-1h2v-1h2v-1h1v-0.5h1v-0.5h1v-1h4v-0.5h1.5v-0.5h0.5v-0.5h1v-0.5h0.5v-1h2v-0.5h2v-0.5h2.5v-0.5h1v-0.5h2v-0.5h2v-0.5h0.5v-0.5h0.5v-0.5h3.5v-1h1.5v-0.5h1.5v-0.5h2.5v-0.5h1.5v-0.5h2v-0.5h2v-0.5h1.5v-0.5h0.5v-0.5h1.5v-0.5h1.5v-0.5h0.5v-0.5h1.5v-0.5h2v-0.5h4.5v-1.5h1.5v-0.5h0.5v-1h2.5v-0.5h2v-0.5h4v-0.5h0.5v-0.5h5v-0.5h1v-0.5h1v-0.5h5.5v-0.5h3v-0.5h5.5v-0.5h1.5v-0.5h0.5v-0.5h3v-0.5h2v-0.5h1v-0.5h0.5v-1h4v-0.5h1.5v-1h1v-0.5h0.5v-0.5h3.5v-0.5h0.5v-0.5h1v-0.5h2v-0.5h0.5v-0.5h1v-0.5h2v-0.5h1v-0.5h2v-0.5h0.5v-1h2.5v-0.5h0.5v-0.5h3v-0.5h1.5v-0.5h5v-1h4v-0.5h0.5v-0.5h2v-0.5h2v-0.5h1v-0.5h3.5v-0.5h3.5v-1h1.5v-0.5h6v-0.5h5.5v-0.5h1.5v-0.5h2v-0.5h4v-0.5h4.5v-0.5h5.5v-0.5h9.5v-0.5h7v-0.5h4v-0.5h1.5v-0.5h1v-0.5h1v-0.5h1v-0.5h4v-0.5h13.5v-0.5h5.5v-0.5h1v-0.5h6.5v-0.5h2v-0.5h10v-0.5h1.5v-0.5h3v-0.5h4v-0.5h5.5v-0.5h1.5v-1h1v-0.5h2v-0.5h2v-0.5h2.5v-0.5h7v-0.5h8v-0.5h13v-0.5h29v-0.5h45v-0.5h37v-0.5h64v-0.5h56.5v-0.5h6.7L954.6,37.9" stroke="#000000" stroke-width="2.1" stroke-linecap="square"/>
<path d="M122.0,686.0 L136.2,412.4 L954.6,37.9" stroke="#0a00b8" stroke-width="2.0" stroke-linecap="square"/>
</g>
<rect x="80.6" y="5.6" width="915.2" height="712.8" fill="none" stroke="#000" stroke-width="2.3"/>
<path d="M122.0,717.4v-7.2M122.0,6.6v7.2M81.6,686.0h7.2M994.8,686.0h-7.2M288.5,717.4v-7.2M288.5,6.6v7.2M81.6,556.4h7.2M994.8,556.4h-7.2M455.0,717.4v-7.2M455.0,6.6v7.2M81.6,426.8h7.2M994.8,426.8h-7.2M621.5,717.4v-7.2M621.5,6.6v7.2M81.6,297.1h7.2M994.8,297.1h-7.2M788.0,717.4v-7.2M788.0,6.6v7.2M81.6,167.5h7.2M994.8,167.5h-7.2M954.5,717.4v-7.2M954.5,6.6v7.2M81.6,37.9h7.2M994.8,37.9h-7.2" stroke="#111" stroke-width="1.4" fill="none"/>
<g font-size="25.6" fill="#000">
<text x="104.0" y="745.0" textLength="39.2" lengthAdjust="spacingAndGlyphs">0.0</text>
<text x="36.5" y="692.9" textLength="39.2" lengthAdjust="spacingAndGlyphs">0.0</text>
<text x="270.5" y="745.0" textLength="39.2" lengthAdjust="spacingAndGlyphs">0.2</text>
<text x="36.5" y="563.3" textLength="39.2" lengthAdjust="spacingAndGlyphs">0.2</text>
<text x="437.0" y="745.0" textLength="39.2" lengthAdjust="spacingAndGlyphs">0.4</text>
<text x="36.5" y="433.7" textLength="39.2" lengthAdjust="spacingAndGlyphs">0.4</text>
<text x="603.5" y="745.0" textLength="39.2" lengthAdjust="spacingAndGlyphs">0.6</text>
<text x="36.5" y="304.0" textLength="39.2" lengthAdjust="spacingAndGlyphs">0.6</text>
<text x="770.0" y="745.0" textLength="39.2" lengthAdjust="spacingAndGlyphs">0.8</text>
<text x="36.5" y="174.4" textLength="39.2" lengthAdjust="spacingAndGlyphs">0.8</text>
<text x="938.0" y="745.0" textLength="39.2" lengthAdjust="spacingAndGlyphs">1.0</text>
<text x="38.0" y="44.8" textLength="39.2" lengthAdjust="spacingAndGlyphs">1.0</text>
<text x="425.6" y="778.3" textLength="62.4" lengthAdjust="spacingAndGlyphs">False</text>
<text x="496.5" y="778.3" textLength="93.8" lengthAdjust="spacingAndGlyphs">Positive</text>
<text x="598.9" y="778.3" textLength="55.5" lengthAdjust="spacingAndGlyphs">Rate</text>
<g transform="translate(20.9,471.0) rotate(-90)">
<text x="0.0" y="0.0" textLength="55.2" lengthAdjust="spacingAndGlyphs">True</text>
<text x="63.8" y="0.0" textLength="93.8" lengthAdjust="spacingAndGlyphs">Positive</text>
<text x="166.1" y="0.0" textLength="55.5" lengthAdjust="spacingAndGlyphs">Rate</text>
</g>
</g>
<rect x="584.8" y="436.7" width="401.2" height="271.3" fill="#fff" stroke="#000" stroke-width="2"/>
<g font-size="21.3" fill="#000">
<path d="M598.2,453.1H629" stroke="#0a00c8" stroke-width="2.35" fill="none"/>
<text x="650.4" y="460.0" textLength="98.9" lengthAdjust="spacingAndGlyphs">DeepMDA</text>
<text x="756.4" y="460.0" textLength="44.1" lengthAdjust="spacingAndGlyphs">ROC</text>
<text x="807.7" y="460.0" textLength="54.2" lengthAdjust="spacingAndGlyphs">(area</text>
<text x="870.3" y="460.0" textLength="14.1" lengthAdjust="spacingAndGlyphs">=</text>
<text x="892.8" y="460.0" textLength="80.1" lengthAdjust="spacingAndGlyphs">0.9526)</text>
<path d="M598.2,482.6H629" stroke="#005000" stroke-width="2.35" fill="none"/>
<text x="650.4" y="489.5" textLength="106.7" lengthAdjust="spacingAndGlyphs">RAW_DNN</text>
<text x="764.3" y="489.5" textLength="44.1" lengthAdjust="spacingAndGlyphs">ROC</text>
<text x="815.5" y="489.5" textLength="54.2" lengthAdjust="spacingAndGlyphs">(area</text>
<text x="878.2" y="489.5" textLength="14.1" lengthAdjust="spacingAndGlyphs">=</text>
<text x="900.6" y="489.5" textLength="80.1" lengthAdjust="spacingAndGlyphs">0.9375)</text>
<path d="M598.2,512.1H629" stroke="#e20a0a" stroke-width="2.35" fill="none"/>
<text x="650.4" y="519.0" textLength="96.7" lengthAdjust="spacingAndGlyphs">SAE_ADA</text>
<text x="754.2" y="519.0" textLength="44.1" lengthAdjust="spacingAndGlyphs">ROC</text>
<text x="805.5" y="519.0" textLength="54.2" lengthAdjust="spacingAndGlyphs">(area</text>
<text x="868.1" y="519.0" textLength="14.1" lengthAdjust="spacingAndGlyphs">=</text>
<text x="890.6" y="519.0" textLength="80.1" lengthAdjust="spacingAndGlyphs">0.9239)</text>
<path d="M598.2,541.6H629" stroke="#10a4a4" stroke-width="2.35" fill="none"/>
<text x="650.4" y="548.5" textLength="88.0" lengthAdjust="spacingAndGlyphs">NCPMDA</text>
<text x="745.6" y="548.5" textLength="44.1" lengthAdjust="spacingAndGlyphs">ROC</text>
<text x="796.8" y="548.5" textLength="54.2" lengthAdjust="spacingAndGlyphs">(area</text>
<text x="859.4" y="548.5" textLength="14.1" lengthAdjust="spacingAndGlyphs">=</text>
<text x="881.9" y="548.5" textLength="80.1" lengthAdjust="spacingAndGlyphs">0.8912)</text>
<path d="M599.1,571.1H611.9M623.6,571.1H628.2" stroke="#a000a8" stroke-width="2.35" fill="none"/>
<text x="650.4" y="578.0" textLength="72.6" lengthAdjust="spacingAndGlyphs">PBMDA</text>
<text x="730.2" y="578.0" textLength="44.1" lengthAdjust="spacingAndGlyphs">ROC</text>
<text x="781.4" y="578.0" textLength="54.2" lengthAdjust="spacingAndGlyphs">(area</text>
<text x="844.1" y="578.0" textLength="14.1" lengthAdjust="spacingAndGlyphs">=</text>
<text x="866.5" y="578.0" textLength="80.1" lengthAdjust="spacingAndGlyphs">0.9122)</text>
<path d="M598.2,600.6H629" stroke="#a3aa14" stroke-width="2.45" fill="none"/>
<text x="650.4" y="607.5" textLength="86.0" lengthAdjust="spacingAndGlyphs">HGIMDA</text>
<text x="743.5" y="607.5" textLength="44.1" lengthAdjust="spacingAndGlyphs">ROC</text>
<text x="794.8" y="607.5" textLength="54.2" lengthAdjust="spacingAndGlyphs">(area</text>
<text x="857.4" y="607.5" textLength="14.1" lengthAdjust="spacingAndGlyphs">=</text>
<text x="879.8" y="607.5" textLength="80.1" lengthAdjust="spacingAndGlyphs">0.7780)</text>
<path d="M598.2,630.1H629" stroke="#000000" stroke-width="2.45" fill="none"/>
<text x="650.4" y="637.0" textLength="85.7" lengthAdjust="spacingAndGlyphs">RLSMDA</text>
<text x="743.3" y="637.0" textLength="44.1" lengthAdjust="spacingAndGlyphs">ROC</text>
<text x="794.5" y="637.0" textLength="54.2" lengthAdjust="spacingAndGlyphs">(area</text>
<text x="857.2" y="637.0" textLength="14.1" lengthAdjust="spacingAndGlyphs">=</text>
<text x="879.6" y="637.0" textLength="80.1" lengthAdjust="spacingAndGlyphs">0.8368)</text>
<path d="M598.2,659.6H629" stroke="#0a00b8" stroke-width="2.35" fill="none"/>
<text x="650.4" y="666.5" textLength="104.9" lengthAdjust="spacingAndGlyphs">RKNNMDA</text>
<text x="762.5" y="666.5" textLength="44.1" lengthAdjust="spacingAndGlyphs">ROC</text>
<text x="813.7" y="666.5" textLength="54.2" lengthAdjust="spacingAndGlyphs">(area</text>
<text x="876.4" y="666.5" textLength="14.1" lengthAdjust="spacingAndGlyphs">=</text>
<text x="898.8" y="666.5" textLength="80.1" lengthAdjust="spacingAndGlyphs">0.7023)</text>
<path d="M599.1,689.1H611.9M623.6,689.1H628.2" stroke="#606060" stroke-width="2.05" fill="none"/>
<text x="650.4" y="696.0" textLength="90.4" lengthAdjust="spacingAndGlyphs">BaseLine</text>
<text x="747.9" y="696.0" textLength="54.2" lengthAdjust="spacingAndGlyphs">(area</text>
<text x="810.5" y="696.0" textLength="14.1" lengthAdjust="spacingAndGlyphs">=</text>
<text x="833.0" y="696.0" textLength="80.1" lengthAdjust="spacingAndGlyphs">0.5000)</text>
</g>
</svg></body></html>
